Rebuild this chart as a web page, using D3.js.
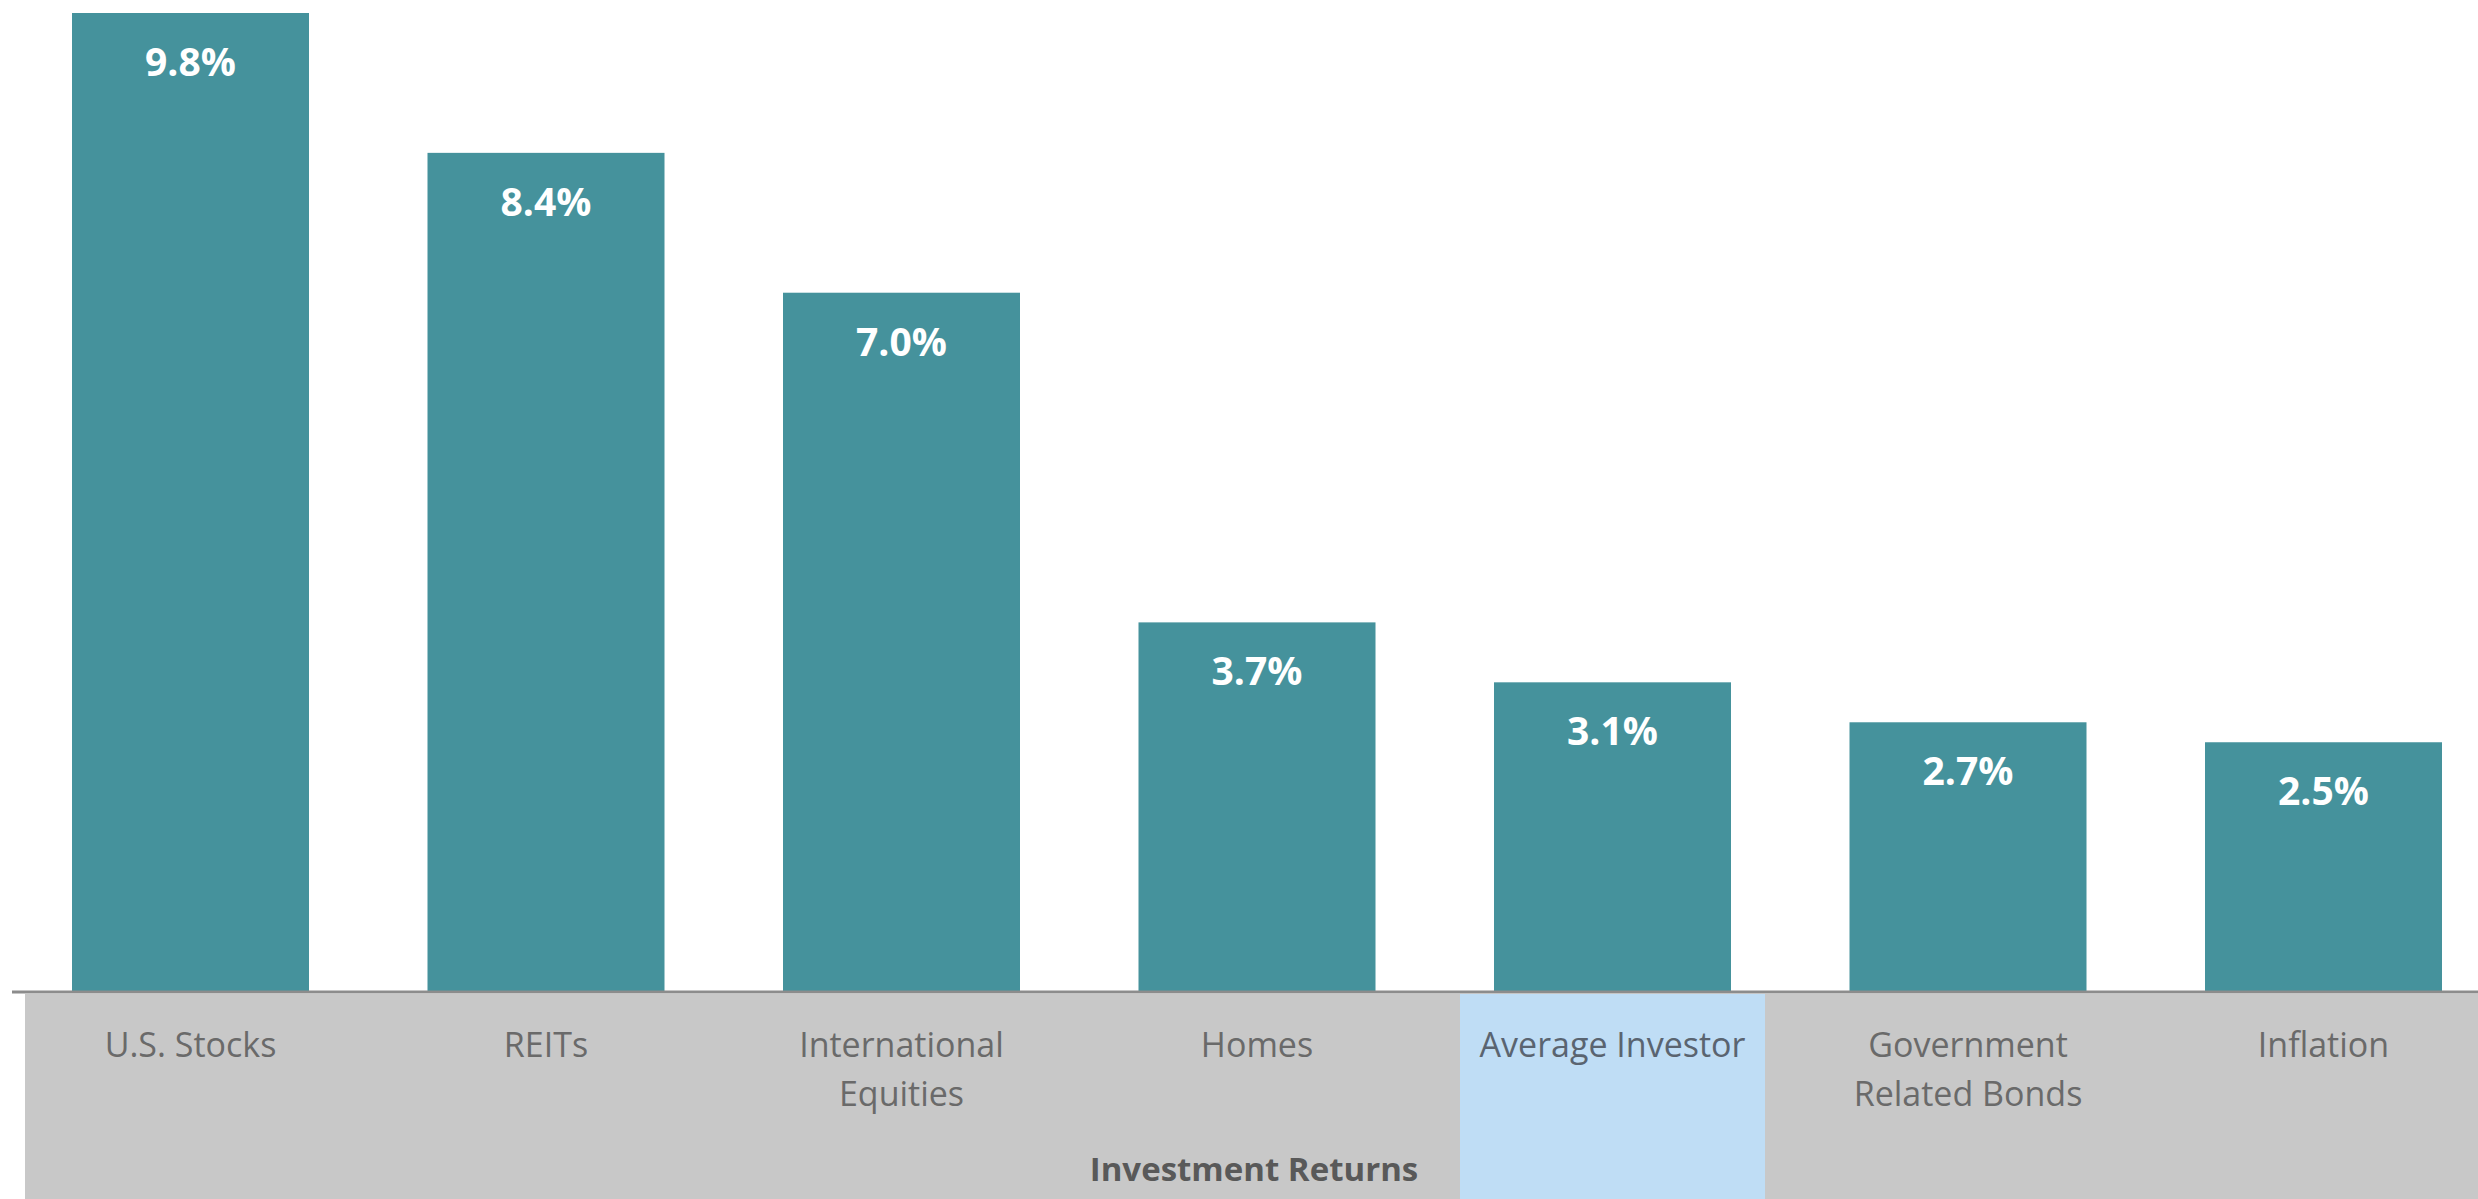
<!DOCTYPE html>
<html>
<head>
<meta charset="utf-8">
<script src="https://cdn.jsdelivr.net/npm/d3@7"></script>
<style>
  html, body { margin: 0; padding: 0; background: #ffffff; overflow: hidden; }
  svg { display: block; }
  text { font-family: "Open Sans", "Noto Sans", sans-serif; }
</style>
</head>
<body>
<svg id="chart" width="2478" height="1199"></svg>
<script>
// Annualised returns by asset class (%)
const categories = ["U.S. Stocks", "REITs", "International Equities", "Homes",
                    "Average Investor", "Government Related Bonds", "Inflation"];
const categoryLines = [["U.S. Stocks"], ["REITs"], ["International", "Equities"], ["Homes"],
                       ["Average Investor"], ["Government", "Related Bonds"], ["Inflation"]];
const returns = [9.8, 8.4, 7.0, 3.7, 3.1, 2.7, 2.5];
const highlighted = "Average Investor";
const axisTitle = "Investment Returns";

const W = 2478, H = 1199;
const baseY = 992, topY = 13;

const svg = d3.select("#chart");

const x = d3.scaleBand()
  .domain(categories)
  .range([12.75, 2501.25])
  .paddingInner(1 / 3)
  .paddingOuter(1 / 6);

const y = d3.scaleLinear()
  .domain([0, 9.8])
  .range([baseY, topY]);

// grey category band under the axis
svg.append("rect")
  .attr("x", 25).attr("y", baseY + 2)
  .attr("width", W - 25).attr("height", H - baseY - 2)
  .attr("fill", "#c8c8c8");

// highlighted category cell
const hx = x(highlighted) + x.bandwidth() / 2;
svg.append("rect")
  .attr("x", hx - 152.5).attr("y", baseY + 2)
  .attr("width", 305).attr("height", H - baseY - 2)
  .attr("fill", "#bfddf5");

// bars
svg.append("g").selectAll("rect")
  .data(categories)
  .join("rect")
  .attr("x", d => x(d))
  .attr("y", (d, i) => y(returns[i]))
  .attr("width", x.bandwidth())
  .attr("height", (d, i) => baseY - y(returns[i]))
  .attr("fill", "#45929c");

// value labels inside bars
svg.append("g").selectAll("text")
  .data(categories)
  .join("text")
  .attr("x", d => x(d) + x.bandwidth() / 2)
  .attr("y", (d, i) => y(returns[i]) + 63)
  .attr("text-anchor", "middle")
  .attr("fill", "#ffffff")
  .attr("font-size", 39)
  .attr("font-weight", 700)
  .text((d, i) => returns[i].toFixed(1) + "%");

// baseline
svg.append("line")
  .attr("x1", 12).attr("x2", W)
  .attr("y1", baseY).attr("y2", baseY)
  .attr("stroke", "#8c8c8c")
  .attr("stroke-width", 3);

// category labels
const xAxis = d3.axisBottom(x).tickSize(0).tickFormat("");
const axisG = svg.append("g").attr("transform", `translate(0,${baseY})`).call(xAxis);
axisG.select(".domain").remove();
axisG.selectAll(".tick").each(function (d, i) {
  const t = d3.select(this).append("text")
    .attr("text-anchor", "middle")
    .attr("fill", d === highlighted ? "#5a6470" : "#6a6a6a")
    .attr("font-size", 34)
    .attr("textLength", null);
  categoryLines[i].forEach((line, k) => {
    t.append("tspan").attr("x", 0).attr("y", 65 + k * 49).text(line);
  });
});

// axis title
svg.append("text")
  .attr("x", (x.range()[0] + x.range()[1]) / 2 - 3)
  .attr("y", 1181)
  .attr("text-anchor", "middle")
  .attr("fill", "#595959")
  .attr("font-size", 33)
  .attr("font-weight", 700)
  .text(axisTitle);
</script>
</body>
</html>
